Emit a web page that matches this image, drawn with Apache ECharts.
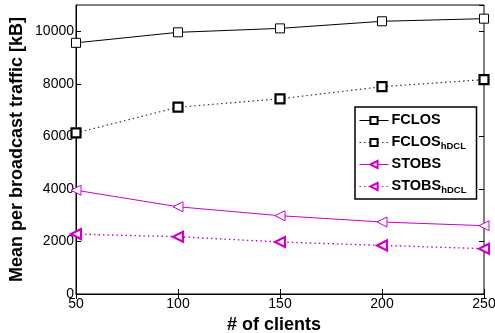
<!DOCTYPE html>
<html><head><meta charset="utf-8">
<script src="https://cdn.jsdelivr.net/npm/echarts@6/dist/echarts.min.js"></script>
<style>html,body{margin:0;padding:0;background:#fff}#c{width:495px;height:333px}</style>
</head><body><div id="c"></div>
<script>
const clients = [50, 100, 150, 200, 250];
const fclos = [9560, 9960, 10110, 10380, 10480];
const fclosHdcl = [6130, 7110, 7430, 7890, 8160];
const stobs = [3950, 3320, 2980, 2740, 2600];
const stobsHdcl = [2280, 2180, 1980, 1850, 1725];
const seriesNames = ['FCLOS', 'FCLOS_hDCL', 'STOBS', 'STOBS_hDCL'];

const pair = ys => clients.map((x, i) => [x, ys[i]]);
const F = 'Liberation Sans, Arial, sans-serif';
const MAG = '#cc00cc';

const chart = echarts.init(document.getElementById('c'), null, {renderer: 'canvas'});
const hiddenAxis = {
  axisLine: {show: false}, axisLabel: {show: false}, splitLine: {show: false},
  axisTick: {show: true, inside: true, length: 5, lineStyle: {color: '#000'}}
};
chart.setOption({
  animation: false,
  backgroundColor: '#fff',
  grid: {left: 76, right: 11, top: 5, bottom: 39, show: true, borderColor: '#000', borderWidth: 1,
         backgroundColor: 'transparent', outerBoundsMode: 'none', containLabel: false},
  legend: {
    left: 355, top: 107, width: 123, orient: 'vertical',
    padding: [4, 10, 4, 4], itemGap: 4, itemWidth: 29, itemHeight: 9,
    backgroundColor: '#fff', borderColor: '#000', borderWidth: 1.5, borderRadius: 0,
    lineStyle: {width: 1},
    data: seriesNames,
    formatter: n => {
      const p = n.split('_');
      return p.length > 1 ? '{m|' + p[0] + '}{s|' + p[1] + '}' : '{m|' + n + '}{s|}';
    },
    textStyle: {
      fontFamily: F, color: '#000', padding: [0, 0, 0, -2],
      rich: {
        m: {fontSize: 14.5, fontWeight: 'bold', fontFamily: F, color: '#000', lineHeight: 17, verticalAlign: 'top'},
        s: {fontSize: 9.5, fontWeight: 'bold', fontFamily: F, color: '#000', lineHeight: 17, verticalAlign: 'bottom', padding: [8, 0, 0, 0]}
      }
    }
  },
  xAxis: [{
    type: 'value', min: 50, max: 250, interval: 50,
    name: '# of clients', nameLocation: 'middle', nameGap: 19,
    nameTextStyle: {fontFamily: F, fontSize: 18, fontWeight: 'bold', color: '#000', padding: [0, 12, 0, 0]},
    axisLine: {show: true, lineStyle: {color: '#000', width: 1}},
    axisTick: {inside: true, length: 5, lineStyle: {color: '#000'}},
    axisLabel: {fontFamily: F, fontSize: 14, color: '#000', margin: 3},
    splitLine: {show: false}
  }, Object.assign({type: 'value', min: 50, max: 250, interval: 50, position: 'top'}, hiddenAxis)],
  yAxis: [{
    type: 'value', min: 0, max: 11000, interval: 2000,
    name: 'Mean per broadcast traffic [kB]', nameLocation: 'middle', nameGap: 50, nameMoveOverlap: false,
    nameTextStyle: {fontFamily: F, fontSize: 18, fontWeight: 'bold', color: '#000'},
    axisLine: {show: true, lineStyle: {color: '#000', width: 1}},
    axisTick: {inside: true, length: 5, lineStyle: {color: '#000'}},
    axisLabel: {fontFamily: F, fontSize: 14, color: '#000', margin: 2, showMaxLabel: false, formatter: v => String(v)},
    splitLine: {show: false}
  }, Object.assign({type: 'value', min: 0, max: 11000, interval: 2000, position: 'right'}, hiddenAxis)],
  series: [
    {name: 'FCLOS', type: 'line', data: pair(fclos), symbol: 'rect', symbolSize: 9,
     lineStyle: {color: '#000', width: 1}, itemStyle: {color: '#fff', borderColor: '#000', borderWidth: 1}},
    {name: 'FCLOS_hDCL', type: 'line', data: pair(fclosHdcl), symbol: 'rect', symbolSize: 9,
     lineStyle: {color: '#333', width: 1.2, type: [1.5, 3]}, itemStyle: {color: '#fff', borderColor: '#000', borderWidth: 2.2}},
    {name: 'STOBS', type: 'line', data: pair(stobs), symbol: 'triangle', symbolSize: 10, symbolRotate: 90,
     lineStyle: {color: MAG, width: 1}, itemStyle: {color: '#fff', borderColor: MAG, borderWidth: 1}},
    {name: 'STOBS_hDCL', type: 'line', data: pair(stobsHdcl), symbol: 'triangle', symbolSize: 10, symbolRotate: 90,
     lineStyle: {color: MAG, width: 1.4, type: [1.5, 3]}, itemStyle: {color: '#fff', borderColor: MAG, borderWidth: 2.2}}
  ]
});
</script></body></html>
